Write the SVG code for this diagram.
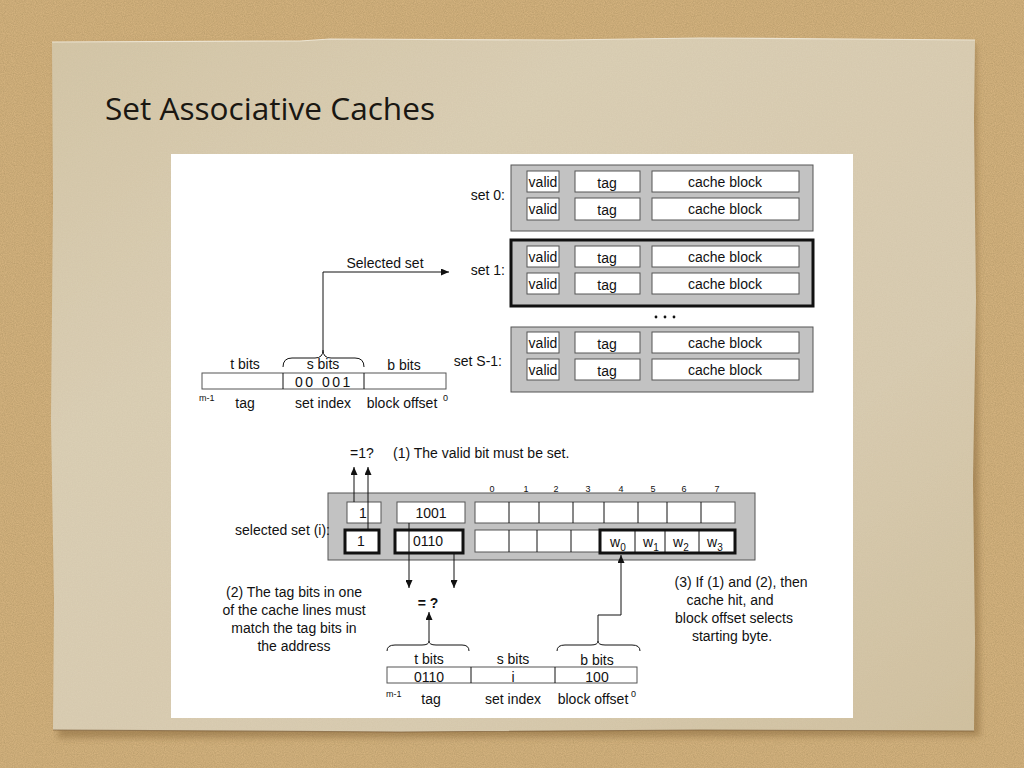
<svg xmlns="http://www.w3.org/2000/svg" width="1024" height="768" viewBox="0 0 1024 768">
  <defs>
    <style>
      .t { font-family: "Liberation Sans", Arial, sans-serif; font-size: 14px; fill: #111; }
      .c { text-anchor: middle; }
      .r { text-anchor: end; }
      .t.sm { font-size: 9px; }
      .set { fill: #c2c2c2; stroke: #555; stroke-width: 1; }
      .setsel { fill: #c2c2c2; stroke: #111; stroke-width: 3; }
      .cell { fill: #fff; stroke: #555; stroke-width: 1; }
      .cellb { fill: #fff; stroke: #111; stroke-width: 3; }
      .ln { fill: none; stroke: #111; stroke-width: 1; }
      .arr { fill: none; stroke: #111; stroke-width: 1; marker-end: url(#ah); }
    </style>
    <marker id="ah" markerWidth="8" markerHeight="7" refX="8" refY="3.5" orient="auto" markerUnits="userSpaceOnUse">
      <path d="M0,0 L8,3.5 L0,7 z" fill="#111"/>
    </marker>
    <filter id="sand" x="0" y="0" width="100%" height="100%">
      <feTurbulence type="fractalNoise" baseFrequency="0.9" numOctaves="2" seed="3" result="n"/>
      <feColorMatrix in="n" type="matrix" values="0 0 0 0 0.35  0 0 0 0 0.25  0 0 0 0 0.1  0 0 0 0.7 -0.1" result="g"/>
      <feComposite in="g" in2="SourceGraphic" operator="in" result="gm"/>
      <feMerge><feMergeNode in="SourceGraphic"/><feMergeNode in="gm"/></feMerge>
    </filter>
    <filter id="grain" x="0" y="0" width="100%" height="100%">
      <feTurbulence type="fractalNoise" baseFrequency="0.8" numOctaves="2" seed="7" result="n"/>
      <feColorMatrix in="n" type="matrix" values="0 0 0 0 0.45  0 0 0 0 0.38  0 0 0 0 0.25  0 0 0 0.18 0" result="g"/>
      <feComposite in="g" in2="SourceGraphic" operator="in" result="gm"/>
      <feMerge><feMergeNode in="SourceGraphic"/><feMergeNode in="gm"/></feMerge>
    </filter>
    <filter id="soft" x="-10%" y="-10%" width="120%" height="120%">
      <feGaussianBlur stdDeviation="3"/>
    </filter>
    <linearGradient id="paperg" x1="0" y1="0" x2="1" y2="1">
      <stop offset="0" stop-color="#d5c7a8"/>
      <stop offset="0.3" stop-color="#dcd0b6"/>
      <stop offset="0.7" stop-color="#dacdb2"/>
      <stop offset="1" stop-color="#d2c2a1"/>
    </linearGradient>
  </defs>

  <!-- sandy backdrop -->
  <rect x="0" y="0" width="1024" height="768" fill="#d6b480" filter="url(#sand)"/>

  <!-- paper sheet with shadow -->
  <path d="M56,46 L976,44 L980,736 L58,738 z" fill="#8a6a3e" opacity="0.55" filter="url(#soft)"/>
  <path d="M52,42 L300,41 L330,39 L560,40 L700,38 L975,40 L974,120 L976,300 L973,480 L975,640 L974,731 L700,730 L400,732 L53,730 L54,600 L51,420 L53,200 z" fill="url(#paperg)" filter="url(#grain)"/>
  <path d="M52,42 L300,41 L330,39 L560,40 L700,38 L975,40" fill="none" stroke="#ece4d2" stroke-width="1.2"/>
  <path d="M53,730 L400,732 L700,730 L974,731" fill="none" stroke="#7d5f3a" stroke-width="1.2" opacity="0.7"/>

  <!-- title -->
  <text x="105" y="120" font-family="'Open Sans', 'DejaVu Sans', sans-serif" font-size="31" fill="#1a1712" textLength="330" lengthAdjust="spacingAndGlyphs">Set Associative Caches</text>

  <!-- white figure panel -->
  <rect x="171" y="154" width="682" height="564" fill="#ffffff"/>

  <!-- ===== cache organisation: sets ===== -->
  <g id="set0">
    <rect class="set" x="511" y="165" width="302" height="66"/>
    <rect class="cell" x="527" y="171" width="32" height="21"/>
    <rect class="cell" x="575" y="171" width="65" height="21"/>
    <rect class="cell" x="652" y="171" width="147" height="21"/>
    <rect class="cell" x="527" y="198" width="32" height="22"/>
    <rect class="cell" x="575" y="198" width="65" height="22"/>
    <rect class="cell" x="652" y="198" width="147" height="22"/>
    <text class="t c" x="543" y="187">valid</text>
    <text class="t c" x="607" y="188">tag</text>
    <text class="t c" x="725" y="187">cache block</text>
    <text class="t c" x="543" y="214">valid</text>
    <text class="t c" x="607" y="215">tag</text>
    <text class="t c" x="725" y="214">cache block</text>
    <text class="t r" x="505" y="200">set 0:</text>
  </g>

  <g id="set1">
    <rect class="setsel" x="511" y="240" width="302" height="66"/>
    <rect class="cell" x="527" y="246" width="32" height="21"/>
    <rect class="cell" x="575" y="246" width="65" height="21"/>
    <rect class="cell" x="652" y="246" width="147" height="21"/>
    <rect class="cell" x="527" y="273" width="32" height="21"/>
    <rect class="cell" x="575" y="273" width="65" height="21"/>
    <rect class="cell" x="652" y="273" width="147" height="21"/>
    <text class="t c" x="543" y="262">valid</text>
    <text class="t c" x="607" y="263">tag</text>
    <text class="t c" x="725" y="262">cache block</text>
    <text class="t c" x="543" y="289">valid</text>
    <text class="t c" x="607" y="290">tag</text>
    <text class="t c" x="725" y="289">cache block</text>
    <text class="t r" x="505" y="275">set 1:</text>
  </g>

  <g id="ellipsis">
    <circle cx="656" cy="317" r="1.4" fill="#111"/>
    <circle cx="665" cy="317" r="1.4" fill="#111"/>
    <circle cx="674" cy="317" r="1.4" fill="#111"/>
  </g>

  <g id="setS1">
    <rect class="set" x="511" y="327" width="302" height="65"/>
    <rect class="cell" x="527" y="332" width="32" height="21"/>
    <rect class="cell" x="575" y="332" width="65" height="21"/>
    <rect class="cell" x="652" y="332" width="147" height="21"/>
    <rect class="cell" x="527" y="359" width="32" height="21"/>
    <rect class="cell" x="575" y="359" width="65" height="21"/>
    <rect class="cell" x="652" y="359" width="147" height="21"/>
    <text class="t c" x="543" y="348">valid</text>
    <text class="t c" x="607" y="349">tag</text>
    <text class="t c" x="725" y="348">cache block</text>
    <text class="t c" x="543" y="375">valid</text>
    <text class="t c" x="607" y="376">tag</text>
    <text class="t c" x="725" y="375">cache block</text>
    <text class="t r" x="502" y="366">set S-1:</text>
  </g>

  <!-- ===== address split (upper) ===== -->
  <g id="address-top">
    <rect class="cell" x="202" y="373" width="244" height="16" stroke="#333"/>
    <line class="ln" x1="283" y1="373" x2="283" y2="389"/>
    <line class="ln" x1="364" y1="373" x2="364" y2="389"/>
    <text class="t c" x="245" y="369">t bits</text>
    <text class="t c" x="323" y="369">s bits</text>
    <text class="t c" x="404" y="370">b bits</text>
    <text class="t c" x="324" y="387" letter-spacing="2.5">00 001</text>
    <text class="t sm" x="199" y="401">m-1</text>
    <text class="t c" x="245" y="408">tag</text>
    <text class="t c" x="323" y="408">set index</text>
    <text class="t c" x="402" y="408">block offset</text>
    <text class="t sm" x="443" y="401">0</text>
    <text class="t c" x="385" y="268">Selected set</text>
  </g>

  <!-- ===== selected set detail ===== -->
  <g id="selected-set">
    <rect class="set" x="328" y="493" width="427" height="67"/>
    <rect class="cell" x="347" y="502" width="34" height="21"/>
    <rect class="cell" x="397" y="502" width="68" height="21"/>
    <rect class="cell" x="475" y="502" width="260" height="21"/>
    <line class="ln" x1="509" y1="502" x2="509" y2="523" stroke="#555"/>
    <line class="ln" x1="539" y1="502" x2="539" y2="523" stroke="#555"/>
    <line class="ln" x1="573" y1="502" x2="573" y2="523" stroke="#555"/>
    <line class="ln" x1="604" y1="502" x2="604" y2="523" stroke="#555"/>
    <line class="ln" x1="638" y1="502" x2="638" y2="523" stroke="#555"/>
    <line class="ln" x1="667" y1="502" x2="667" y2="523" stroke="#555"/>
    <line class="ln" x1="701" y1="502" x2="701" y2="523" stroke="#555"/>

    <rect class="cellb" x="345" y="530" width="34" height="23"/>
    <rect class="cellb" x="395" y="530" width="68" height="23"/>
    <rect class="cell" x="475" y="530" width="126" height="22"/>
    <line class="ln" x1="509" y1="530" x2="509" y2="552" stroke="#555"/>
    <line class="ln" x1="537" y1="530" x2="537" y2="552" stroke="#555"/>
    <line class="ln" x1="571" y1="530" x2="571" y2="552" stroke="#555"/>
    <rect class="cellb" x="600" y="530" width="135" height="23"/>
    <line class="ln" x1="635" y1="530" x2="635" y2="553"/>
    <line class="ln" x1="665" y1="530" x2="665" y2="553"/>
    <line class="ln" x1="699" y1="530" x2="699" y2="553"/>

    <!-- byte column numbers -->
    <text class="t sm c" x="492" y="492">0</text>
    <text class="t sm c" x="526" y="492">1</text>
    <text class="t sm c" x="556" y="492">2</text>
    <text class="t sm c" x="588" y="492">3</text>
    <text class="t sm c" x="621" y="492">4</text>
    <text class="t sm c" x="653" y="492">5</text>
    <text class="t sm c" x="684" y="492">6</text>
    <text class="t sm c" x="717" y="492">7</text>

    <text class="t" x="359" y="518">1</text>
    <text class="t c" x="431" y="518">1001</text>
    <text class="t" x="357" y="546">1</text>
    <text class="t c" x="428" y="546">0110</text>

    <text class="t" x="610" y="547">w<tspan font-size="10" dy="4">0</tspan></text>
    <text class="t" x="643" y="547">w<tspan font-size="10" dy="4">1</tspan></text>
    <text class="t" x="673" y="547">w<tspan font-size="10" dy="4">2</tspan></text>
    <text class="t" x="707" y="547">w<tspan font-size="10" dy="4">3</tspan></text>

    <text class="t r" x="330" y="535">selected set (i):</text>
  </g>

  <!-- ===== address split (lower) ===== -->
  <g id="address-bottom">
    <rect class="cell" x="387" y="667" width="250" height="16" stroke="#333"/>
    <line class="ln" x1="471" y1="667" x2="471" y2="683"/>
    <line class="ln" x1="555" y1="667" x2="555" y2="683"/>
    <text class="t c" x="429" y="664">t bits</text>
    <text class="t c" x="513" y="664">s bits</text>
    <text class="t c" x="597" y="665">b bits</text>
    <text class="t c" x="429" y="682">0110</text>
    <text class="t c" x="513" y="682">i</text>
    <text class="t c" x="597" y="682">100</text>
    <text class="t sm" x="386" y="697">m-1</text>
    <text class="t c" x="431" y="704">tag</text>
    <text class="t c" x="513" y="704">set index</text>
    <text class="t c" x="593" y="704">block offset</text>
    <text class="t sm" x="631" y="697">0</text>
  </g>

  <!-- ===== annotations ===== -->
  <g id="notes">
    <text class="t" x="350" y="458">=1?</text>
    <text class="t" x="393" y="458">(1) The valid bit must be set.</text>
    <text class="t c" x="428" y="608" font-weight="bold">= ?</text>
    <text class="t c" x="294" y="597">(2) The tag bits in one</text>
    <text class="t c" x="294" y="615">of the cache lines must</text>
    <text class="t c" x="294" y="633">match the tag bits in</text>
    <text class="t c" x="294" y="651">the address</text>
    <text class="t c" x="741" y="587">(3) If (1) and (2), then</text>
    <text class="t c" x="730" y="605">cache hit, and</text>
    <text class="t c" x="734" y="623">block  offset selects</text>
    <text class="t c" x="732" y="641">starting byte.</text>
  </g>

  <!-- ===== connectors ===== -->
  <g id="connectors">
    <!-- brace over s bits and selected-set arrow -->
    <path class="ln" d="M283,367 Q283,358 292,358 L315,358 Q323,358 323,350 Q323,358 331,358 L355,358 Q364,358 364,367"/>
    <path class="arr" d="M323,350 L323,272 L449,272"/>
    <!-- valid bit checks -->
    <path class="arr" d="M354,502 L354,467"/>
    <path class="arr" d="M368,530 L368,467"/>
    <!-- tag comparisons -->
    <path class="arr" d="M409,523 L409,588"/>
    <path class="arr" d="M454,554 L454,588"/>
    <!-- brace over lower t bits -->
    <path class="ln" d="M387,651 Q387,645 395,645 L422,645 Q429,645 429,641 Q429,645 436,645 L462,645 Q469,645 469,651"/>
    <path class="arr" d="M429,641 L429,612"/>
    <!-- brace over lower b bits and offset selection -->
    <path class="ln" d="M557,651 Q557,645 565,645 L591,645 Q598,645 598,641 Q598,645 605,645 L632,645 Q640,645 640,651"/>
    <path class="arr" d="M598,641 L598,615 L621,615 L621,555"/>
  </g>
</svg>
